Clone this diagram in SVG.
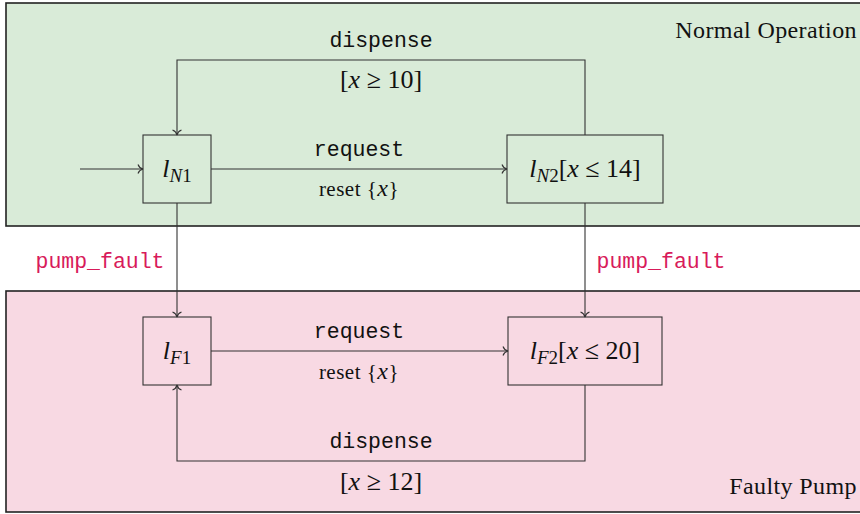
<svg xmlns="http://www.w3.org/2000/svg" width="860" height="514" viewBox="0 0 860 514">
  <style>
    .region { stroke: #222; stroke-width: 1.6; }
    .node rect { fill: none; stroke: #333; stroke-width: 1.1; }
    .edge { fill: none; stroke: #333; stroke-width: 1.1; marker-end: url(#to); }
    .mono { font-family: "Liberation Mono", "DejaVu Sans Mono", monospace; font-size: 21.5px; fill: #111; }
    .fault { font-family: "Liberation Mono", "DejaVu Sans Mono", monospace; font-size: 21.5px; fill: #d81b5a; }
    .serif { font-family: "Liberation Serif", "DejaVu Serif", serif; font-size: 24px; letter-spacing: 0.4px; fill: #111; }
    .math { font-family: "Liberation Serif", "DejaVu Serif", serif; font-size: 26px; fill: #111; }
    .small { font-family: "Liberation Serif", "DejaVu Serif", serif; font-size: 21px; letter-spacing: 0.5px; fill: #111; }
    .it { font-style: italic; }
  </style>
  <defs>
    <marker id="to" markerUnits="userSpaceOnUse" markerWidth="14" markerHeight="14" viewBox="-7 -7 14 14" refX="0" refY="0" orient="auto">
      <path d="M-5,-4.5 C-4,-1.6 -1.2,-0.3 0,0 C-1.2,0.3 -4,1.6 -5,4.5" fill="none" stroke="#333" stroke-width="1.1"/>
    </marker>
  </defs>

  <!-- mode regions -->
  <g id="region-normal">
    <rect class="region" x="6" y="3" width="870" height="223" fill="#d9ebd8"/>
    <text class="serif" x="857" y="38" text-anchor="end">Normal Operation</text>
  </g>
  <g id="region-faulty">
    <rect class="region" x="6" y="291" width="870" height="221" fill="#f8d9e3"/>
    <text class="serif" x="857" y="494" text-anchor="end">Faulty Pump</text>
  </g>

  <!-- transitions -->
  <g id="connectors">
    <path class="edge" d="M80,169 H143"/>
    <path class="edge" d="M211,169 H507"/>
    <path class="edge" d="M585,135 V60 H177 V135"/>
    <path class="edge" d="M177,203 V317"/>
    <path class="edge" d="M585,203 V317"/>
    <path class="edge" d="M211,351 H508"/>
    <path class="edge" d="M585,385 V461 H177 V385"/>

    <text class="mono" x="381" y="47" text-anchor="middle">dispense</text>
    <text class="math" x="381" y="88" text-anchor="middle">[<tspan class="it">x</tspan> ≥ 10]</text>
    <text class="mono" x="359" y="156" text-anchor="middle">request</text>
    <text class="small" x="359" y="196" text-anchor="middle">reset {<tspan class="it" font-size="24">x</tspan>}</text>
    <text class="fault" x="100" y="268" text-anchor="middle">pump_fault</text>
    <text class="fault" x="661" y="268" text-anchor="middle">pump_fault</text>
    <text class="mono" x="359" y="338" text-anchor="middle">request</text>
    <text class="small" x="359" y="379" text-anchor="middle">reset {<tspan class="it" font-size="24">x</tspan>}</text>
    <text class="mono" x="381" y="448" text-anchor="middle">dispense</text>
    <text class="math" x="381" y="490" text-anchor="middle">[<tspan class="it">x</tspan> ≥ 12]</text>
  </g>

  <!-- locations -->
  <g id="lN1" class="node">
    <rect x="143" y="135" width="68" height="68"/>
    <text class="math" x="177" y="177" text-anchor="middle"><tspan class="it">l</tspan><tspan font-size="19" dy="5"><tspan class="it">N</tspan>1</tspan></text>
  </g>
  <g id="lN2" class="node">
    <rect x="507" y="135" width="156" height="68"/>
    <text class="math" x="585" y="177" text-anchor="middle"><tspan class="it">l</tspan><tspan font-size="19" dy="5"><tspan class="it">N</tspan>2</tspan><tspan dy="-5">[<tspan class="it">x</tspan> ≤ 14]</tspan></text>
  </g>
  <g id="lF1" class="node">
    <rect x="143" y="317" width="68" height="68"/>
    <text class="math" x="177" y="359" text-anchor="middle"><tspan class="it">l</tspan><tspan font-size="19" dy="5"><tspan class="it">F</tspan>1</tspan></text>
  </g>
  <g id="lF2" class="node">
    <rect x="508" y="317" width="154" height="68"/>
    <text class="math" x="585" y="359" text-anchor="middle"><tspan class="it">l</tspan><tspan font-size="19" dy="5"><tspan class="it">F</tspan>2</tspan><tspan dy="-5">[<tspan class="it">x</tspan> ≤ 20]</tspan></text>
  </g>
</svg>
